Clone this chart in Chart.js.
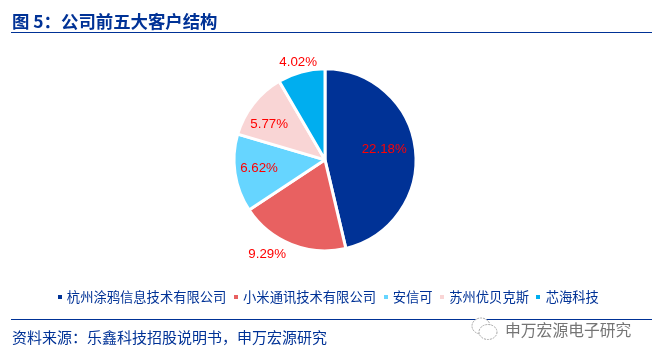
<!DOCTYPE html>
<html>
<head>
<meta charset="utf-8">
<script src="https://cdn.jsdelivr.net/npm/chart.js@4"></script>
<style>
  html, body { margin: 0; padding: 0; background: #fff; }
  body { width: 652px; height: 358px; position: relative; overflow: hidden; font-family: "Noto Sans CJK SC", sans-serif; }
  #wrap { position: absolute; left: 0; top: 0; width: 652px; height: 358px; }
  .title { position: absolute; left: 12px; top: 9px; font-size: 17.4px; line-height: 24px; font-weight: 700; color: #003296; white-space: nowrap; }
  .rule { position: absolute; left: 11px; right: 0; height: 1px; background: #003296; }
  .source { position: absolute; left: 12px; top: 326px; font-size: 15px; line-height: 22px; color: #003296; white-space: nowrap; }
  .mark { position: absolute; left: 505px; top: 320px; font-size: 15.8px; line-height: 20px; color: #757575; white-space: nowrap; }
  .icon { position: absolute; left: 470px; top: 315px; }
</style>
</head>
<body>
<div id="wrap"><canvas id="pie" width="652" height="358"></canvas></div>
<div class="title">图 5：公司前五大客户结构</div>
<div class="rule" style="top:32px"></div>
<div class="rule" style="top:319px"></div>
<div class="source">资料来源：乐鑫科技招股说明书，申万宏源研究</div>
<svg class="icon" width="32" height="28" fill="#fff" stroke="#a5a5a5" stroke-width="1" stroke-dasharray="2 1">
  <ellipse cx="11" cy="11" rx="9" ry="8"></ellipse>
  <ellipse cx="18" cy="17" rx="9" ry="7.5"></ellipse>
</svg>
<div class="mark">申万宏源电子研究</div>

<script>
  const categories = ["杭州涂鸦信息技术有限公司", "小米通讯技术有限公司", "安信可", "苏州优贝克斯", "芯海科技"];
  const shares = [22.18, 9.29, 6.62, 5.77, 4.02];
  const colors = ["#003296", "#E86161", "#66D5FF", "#F9D5D5", "#00AEEF"];

  // label position relative to each slice's center point
  const labelShift = [[14, -5], [-41, 52], [-21, 2], [-20, -7], [-15, -54]];

  // small square legend marker
  function legendSquare(color) {
    const c = document.createElement("canvas");
    c.width = 4;
    c.height = 4;
    const g = c.getContext("2d");
    g.fillStyle = color;
    g.fillRect(0, 0, 4, 4);
    return c;
  }

  const sliceLabels = {
    id: "sliceLabels",
    // legend sits a little right of the pie in the original
    afterLayout(chart) {
      chart.legend.left += 4;
      chart.legend.right += 4;
    },
    afterDatasetsDraw(chart) {
      const ctx = chart.ctx;
      const arcs = chart.getDatasetMeta(0).data;
      ctx.save();
      ctx.fillStyle = "#FF0000";
      ctx.font = '13.3px "Liberation Sans"';
      ctx.textAlign = "center";
      ctx.textBaseline = "middle";
      arcs.forEach((arc, i) => {
        const p = arc.getCenterPoint();
        ctx.fillText(shares[i].toFixed(2) + "%", p.x + labelShift[i][0], p.y + labelShift[i][1]);
      });
      ctx.restore();
    },
  };

  new Chart(document.getElementById("pie"), {
    type: "pie",
    data: {
      labels: categories,
      datasets: [
        {
          data: shares,
          backgroundColor: colors,
          borderColor: "#ffffff",
          borderWidth: 3,
          radius: 91,
        },
      ],
    },
    options: {
      responsive: false,
      animation: false,
      layout: { padding: { top: 38, bottom: 44, right: 2 } },
      plugins: {
        tooltip: { enabled: false },
        legend: {
          position: "bottom",
          labels: {
            usePointStyle: true,
            pointStyleWidth: 1,
            boxHeight: 4,
            padding: 9,
            color: "#003296",
            font: { family: '"Noto Sans CJK SC"', size: 13.3 },
            generateLabels(chart) {
              return categories.map((name, i) => ({
                text: name,
                fontColor: "#003296",
                pointStyle: legendSquare(colors[i]),
                lineWidth: 0,
                hidden: false,
                index: i,
              }));
            },
          },
        },
      },
    },
    plugins: [sliceLabels],
  });
</script>
</body>
</html>
